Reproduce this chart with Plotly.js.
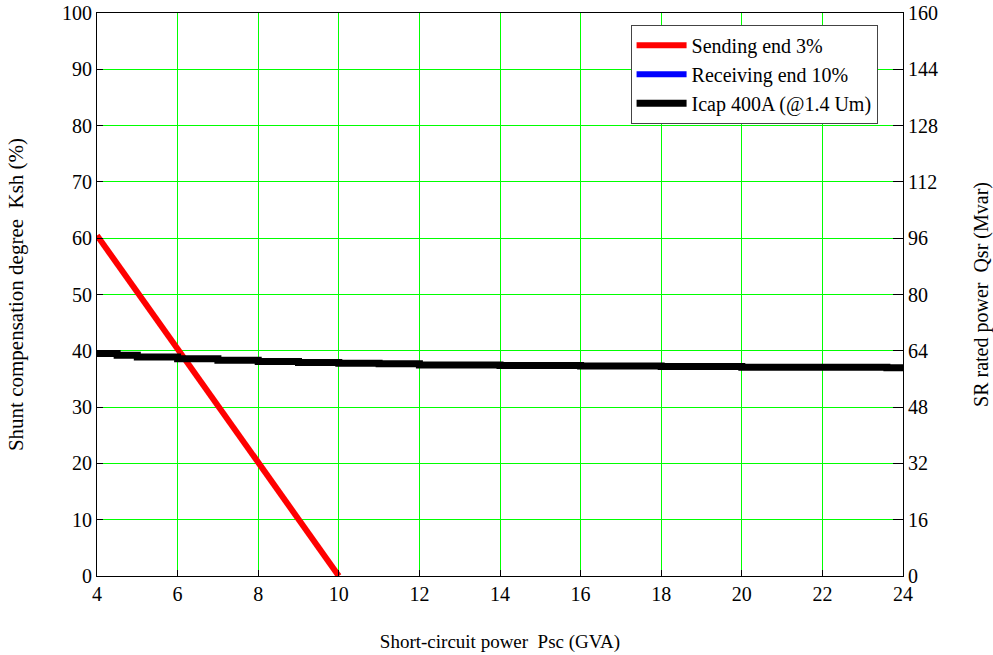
<!DOCTYPE html>
<html>
<head>
<meta charset="utf-8">
<script src="https://cdn.plot.ly/plotly-3.0.1.min.js"></script>
<style>html,body{margin:0;padding:0;background:#fff;}#chart{width:993px;height:655px;}</style>
</head>
<body>
<div id="chart"></div>
<script>
// Data
const sendingX = [4, 5, 6, 7, 8, 9, 10];
const sendingY = [60.5, 50.4, 40.3, 30.2, 20.1, 10.0, 0];
const receivingX = [null];
const receivingY = [null];
const icapX = [4, 4.5, 5, 6, 7, 8, 9, 10, 11, 12, 14, 16, 18, 20, 22, 23.6, 24];
const icapY = [39.5, 39.2, 38.9, 38.6, 38.3, 38.1, 37.9, 37.8, 37.7, 37.5, 37.4, 37.3, 37.2, 37.1, 37.1, 37.0, 36.8];
const xTicks = [4, 6, 8, 10, 12, 14, 16, 18, 20, 22, 24];
const leftTicks = [0, 10, 20, 30, 40, 50, 60, 70, 80, 90, 100];
const rightTicks = [0, 16, 32, 48, 64, 80, 96, 112, 128, 144, 160];

const fam = 'Liberation Serif';
const tickFont = {family: fam, size: 20, color: '#000'};
const traces = [
  {x: sendingX, y: sendingY, mode: 'lines', name: 'Sending end 3%', line: {color: '#ff0000', width: 6}},
  {x: receivingX, y: receivingY, mode: 'lines', name: 'Receiving end 10%', line: {color: '#0000ff', width: 6}},
  {x: icapX, y: icapY, mode: 'lines', name: 'Icap 400A (@1.4 Um)', line: {color: '#000000', width: 7, shape: 'hv'}},
  {x: [4, 24], y: [0, 0], yaxis: 'y2', mode: 'lines', showlegend: false, hoverinfo: 'skip', line: {color: 'rgba(0,0,0,0)', width: 0}}
];
const layout = {
  width: 993, height: 655,
  margin: {l: 97, r: 90, t: 13, b: 79},
  paper_bgcolor: '#fff', plot_bgcolor: '#fff',
  font: tickFont,
  showlegend: true,
  legend: {x: 0.662, y: 0.979, xanchor: 'left', yanchor: 'top', bgcolor: '#fff', bordercolor: '#444', borderwidth: 1,
           font: {family: fam, size: 20, color: '#000'}, tracegroupgap: 0, itemwidth: 50},
  xaxis: {range: [4, 24], tickvals: xTicks, ticktext: xTicks.map(String), showgrid: true, gridcolor: '#00ff00', gridwidth: 1,
          zeroline: false, showline: true, linecolor: '#000', linewidth: 1, mirror: true, ticks: 'inside', ticklen: 6, tickcolor: '#000',
          title: {text: 'Short-circuit power  Psc (GVA)', font: {family: fam, size: 19, color: '#000'}, standoff: 30}, tickfont: tickFont},
  yaxis: {range: [0, 100], tickvals: leftTicks, ticktext: leftTicks.map(String), showgrid: true, gridcolor: '#00ff00', gridwidth: 1,
          zeroline: false, showline: true, linecolor: '#000', linewidth: 1, mirror: true, ticks: 'inside', ticklen: 6, tickcolor: '#000',
          title: {text: 'Shunt compensation degree  Ksh (%)', font: {family: fam, size: 21, color: '#000'}, standoff: 32}, tickfont: tickFont},
  yaxis2: {range: [0, 160], overlaying: 'y', side: 'right', tickvals: rightTicks, ticktext: rightTicks.map(String), showgrid: false,
           zeroline: false, showline: true, linecolor: '#000', ticks: 'inside', ticklen: 10, tickcolor: '#000',
           title: {text: 'SR rated power  Qsr (Mvar)', font: {family: fam, size: 20, color: '#000'}, standoff: 40}, tickfont: tickFont}
};
Plotly.newPlot('chart', traces, layout, {displayModeBar: false, staticPlot: true});
</script>
</body>
</html>
